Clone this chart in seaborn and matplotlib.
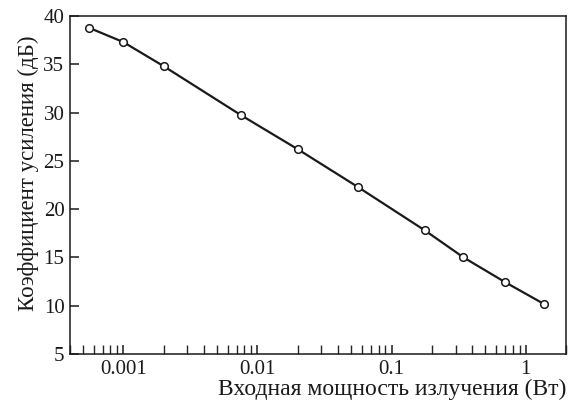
import numpy as np
import pandas as pd
import seaborn as sns
import matplotlib.pyplot as plt
from matplotlib.ticker import LogLocator, FixedLocator, FixedFormatter

# входная мощность (Вт) и коэффициент усиления (дБ)
power_w = [0.00055, 0.001, 0.002, 0.0076, 0.02, 0.056, 0.177, 0.344, 0.70, 1.36]
gain_db = [38.8, 37.3, 34.8, 29.7, 26.2, 22.3, 17.8, 15.0, 12.45, 10.2]

x_ticks = [0.001, 0.01, 0.1, 1]
x_tick_labels = ['0.001', '0.01', '0.1', '1']
y_ticks = [5, 10, 15, 20, 25, 30, 35, 40]

df = pd.DataFrame({'power': power_w, 'gain': gain_db})

sns.set_style('ticks')
plt.rcParams['font.family'] = ['Liberation Serif', 'DejaVu Serif']

fig = plt.figure(figsize=(5.68, 4.05), dpi=100)
ax = fig.add_axes([0.1232, 0.126, 0.8733, 0.8345])

sns.lineplot(data=df, x='power', y='gain', ax=ax, color='#1a1a1a', linewidth=1.6,
             marker='o', markersize=5.5, markerfacecolor='white',
             markeredgecolor='#1a1a1a', markeredgewidth=1.1)

ax.set_xscale('log')
ax.set_xlim(0.0004, 2)
ax.set_ylim(5, 40)
ax.xaxis.set_major_locator(FixedLocator(x_ticks))
ax.xaxis.set_major_formatter(FixedFormatter(x_tick_labels))
ax.xaxis.set_minor_locator(LogLocator(base=10, subs=np.arange(2, 10), numticks=20))
ax.set_yticks(y_ticks)

ax.tick_params(axis='both', which='major', direction='in', length=6.5, width=1.1,
               labelsize=15, colors='#1a1a1a', pad=4)
ax.tick_params(axis='x', which='minor', direction='in', length=6.5, width=1.0)
ax.tick_params(axis='y', which='minor', left=False)

for side in ['top', 'right', 'left', 'bottom']:
    ax.spines[side].set_visible(True)
    ax.spines[side].set_linewidth(1.1)
    ax.spines[side].set_color('#1a1a1a')

ax.set_xlabel('Входная мощность излучения (Вт)', fontsize=17, loc='right',
              color='#1a1a1a', labelpad=0)
ax.set_ylabel('Коэффициент усиления (дБ)', fontsize=16.5, y=0.535,
              color='#1a1a1a', labelpad=3)

plt.savefig('out.png', dpi=100)
